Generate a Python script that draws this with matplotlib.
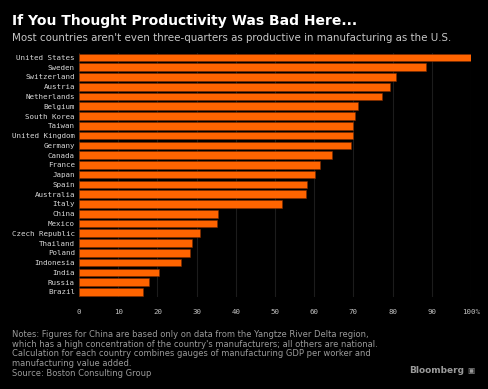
import matplotlib.pyplot as plt

countries = ['United States', 'Sweden', 'Switzerland', 'Austria', 'Netherlands',
             'Belgium', 'South Korea', 'Taiwan', 'United Kingdom', 'Germany',
             'Canada', 'France', 'Japan', 'Spain', 'Australia', 'Italy', 'China',
             'Mexico', 'Czech Republic', 'Thailand', 'Poland', 'Indonesia',
             'India', 'Russia', 'Brazil']
productivity = [100, 88.5, 81.0, 79.3, 77.4, 71.1, 70.4, 69.9, 69.8, 69.3,
                64.6, 61.6, 60.1, 58.1, 57.8, 51.8, 35.5, 35.2, 30.9, 28.9,
                28.2, 25.9, 20.3, 17.9, 16.3]
ticks = [0, 10, 20, 30, 40, 50, 60, 70, 80, 90, 100]
tick_labels = ['0', '10', '20', '30', '40', '50', '60', '70', '80', '90', '100%']

fig = plt.figure(figsize=(4.88, 3.89), dpi=100, facecolor='black')
ax = fig.add_axes([0.162, 0.237, 0.803, 0.628])
ax.set_facecolor('black')

ypos = list(range(len(countries)))
ax.barh(ypos, productivity, height=0.78, color='#ff6400', edgecolor='#7a2a00',
        linewidth=0.4, zorder=2)
ax.set_ylim(len(countries) - 0.5, -0.5)
ax.set_xlim(0, 100)

ax.set_yticks(ypos)
ax.set_yticklabels(countries, family='DejaVu Sans Mono', fontsize=5.4, color='#d8d8d8')
ax.set_xticks(ticks)
ax.set_xticklabels(tick_labels, family='DejaVu Sans Mono', fontsize=5.4, color='#c0c0c0')
ax.tick_params(axis='both', length=0, pad=3)
ax.tick_params(axis='x', pad=9)
ax.grid(axis='x', color='#1c1c1c', linewidth=0.8, zorder=0)
for s in ax.spines.values():
    s.set_visible(False)

fig.text(0.025, 0.945, 'If You Thought Productivity Was Bad Here...',
         color='white', fontsize=10.0, fontweight='bold', va='center')
fig.text(0.025, 0.903, "Most countries aren't even three-quarters as productive in manufacturing as the U.S.",
         color='#c8c8c8', fontsize=7.4, va='center')

notes = ("Notes: Figures for China are based only on data from the Yangtze River Delta region,\n"
         "which has a high concentration of the country's manufacturers; all others are national.\n"
         "Calculation for each country combines gauges of manufacturing GDP per worker and\n"
         "manufacturing value added.\n"
         "Source: Boston Consulting Group")
fig.text(0.025, 0.152, notes, color='#9a9a9a', fontsize=6.0, va='top', linespacing=1.1)
fig.text(0.952, 0.048, 'Bloomberg', color='#9a9a9a', fontsize=6.5, fontweight='bold',
         ha='right', va='center')
fig.text(0.958, 0.048, '\u25a3', color='#9a9a9a', fontsize=5.5, ha='left', va='center')

fig.savefig('out.png', dpi=100, facecolor='black')
